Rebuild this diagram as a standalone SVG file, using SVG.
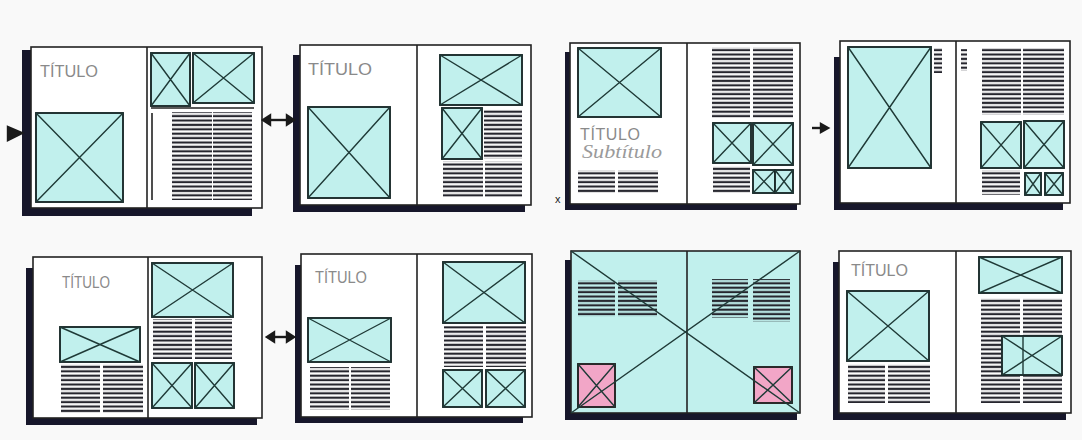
<svg xmlns="http://www.w3.org/2000/svg" width="1082" height="440" viewBox="0 0 1082 440">
<defs>
<pattern id="ln" x="0" y="0" width="10" height="4.4" patternUnits="userSpaceOnUse">
<rect x="0" y="0.6" width="10" height="2.2" fill="#26262e"/>
</pattern>
<style>
.pg{fill:#ffffff;stroke:#222222;stroke-width:1.6}
.sp{stroke:#222222;stroke-width:1.6;fill:none}
.sh{fill:#17172b}
.im{fill:#c1f0ed;stroke:#1b2b2a;stroke-width:1.9}
.pk{fill:#f2a6c7;stroke:#222222;stroke-width:1.9}
.x{stroke:#1f3a37;stroke-width:1.4;fill:none}
.tx{fill:url(#ln)}
.tt{font-family:"Liberation Sans",Arial,sans-serif;font-size:16px;fill:#8a8a8a}
.sub{font-family:"Liberation Serif",serif;font-style:italic;font-size:19px;fill:#9a9a9a}
.ar{fill:#1a1a1a;stroke:#1a1a1a;stroke-width:2.4}
</style>
</defs>
<rect width="1082" height="440" fill="#f9f9f9"/>

<g id="spread1">
<path class="sh" d="M22 50 H31 V207 H252 V216 H22 Z"/>
<rect class="pg" x="31" y="47" width="231" height="161"/>
<line class="sp" x1="147" y1="47" x2="147" y2="208"/>
<text class="tt" x="40" y="77" textLength="58" lengthAdjust="spacingAndGlyphs">TÍTULO</text>
<rect class="im" x="36" y="113" width="87" height="89"/><path class="x" d="M36 113 L123 202 M36 202 L123 113"/>
<rect class="im" x="151" y="53" width="39" height="53"/><path class="x" d="M151 53 L190 106 M151 106 L190 53"/>
<rect class="im" x="193" y="53" width="61" height="50"/><path class="x" d="M193 53 L254 103 M193 103 L254 53"/>
<line class="sp" x1="151" y1="108" x2="254" y2="108"/>
<line class="sp" x1="152" y1="113" x2="152" y2="200"/>
<rect class="tx" x="172" y="112" width="40" height="88"/>
<rect class="tx" x="213" y="112" width="39" height="88"/>
</g>

<g id="spread2">
<path class="sh" d="M293 55 H300 V205 H525 V212 H293 Z"/>
<rect class="pg" x="300" y="45" width="231" height="160"/>
<line class="sp" x1="417" y1="45" x2="417" y2="205"/>
<text class="tt" x="308" y="75" textLength="64" lengthAdjust="spacingAndGlyphs">TÍTULO</text>
<rect class="im" x="308" y="107" width="82" height="91"/><path class="x" d="M308 107 L390 198 M308 198 L390 107"/>
<rect class="im" x="440" y="55" width="82" height="50"/><path class="x" d="M440 55 L522 105 M440 105 L522 55"/>
<rect class="im" x="442" y="108" width="40" height="51"/><path class="x" d="M442 108 L482 159 M442 159 L482 108"/>
<rect class="tx" x="484" y="109" width="38" height="50"/>
<rect class="tx" x="443" y="161" width="40" height="36"/>
<rect class="tx" x="485" y="161" width="37" height="36"/>
</g>

<g id="spread3">
<path class="sh" d="M565 52 H570 V204 H797 V210 H565 Z"/>
<rect class="pg" x="570" y="43" width="230" height="161"/>
<line class="sp" x1="687" y1="43" x2="687" y2="204"/>
<rect class="im" x="578" y="48" width="83" height="69"/><path class="x" d="M578 48 L661 117 M578 117 L661 48"/>
<text class="tt" x="580" y="140" font-size="15" textLength="60" lengthAdjust="spacing">TÍTULO</text>
<text class="sub" x="582" y="158" textLength="80" lengthAdjust="spacingAndGlyphs">Subtítulo</text>
<rect class="tx" x="578" y="170" width="37" height="23"/>
<rect class="tx" x="618" y="170" width="40" height="23"/>
<rect class="tx" x="712" y="47" width="38" height="71"/>
<rect class="tx" x="753" y="47" width="40" height="71"/>
<rect class="im" x="713" y="123" width="38" height="40"/><path class="x" d="M713 123 L751 163 M713 163 L751 123"/>
<rect class="im" x="753" y="123" width="40" height="42"/><path class="x" d="M753 123 L793 165 M753 165 L793 123"/>
<rect class="tx" x="713" y="166" width="37" height="27"/>
<rect class="im" x="753" y="170" width="22" height="23"/><path class="x" d="M753 170 L775 193 M753 193 L775 170"/>
<rect class="im" x="775" y="170" width="18" height="23"/><path class="x" d="M775 170 L793 193 M775 193 L793 170"/>
</g>

<g id="spread4">
<path class="sh" d="M834 57 H840 V203 H1063 V210 H834 Z"/>
<rect class="pg" x="840" y="41" width="230" height="162"/>
<line class="sp" x1="956" y1="41" x2="956" y2="203"/>
<rect class="im" x="848" y="47" width="83" height="121"/><path class="x" d="M848 47 L931 168 M848 168 L931 47"/>
<rect class="tx" x="934" y="48" width="8" height="25"/>
<rect class="tx" x="961" y="49" width="6" height="22"/>
<rect class="tx" x="982" y="48" width="39" height="67"/>
<rect class="tx" x="1023" y="48" width="41" height="67"/>
<rect class="im" x="981" y="122" width="40" height="46"/><path class="x" d="M981 122 L1021 168 M981 168 L1021 122"/>
<rect class="im" x="1024" y="121" width="40" height="47"/><path class="x" d="M1024 121 L1064 168 M1024 168 L1064 121"/>
<rect class="tx" x="982" y="170" width="38" height="25"/>
<rect class="im" x="1025" y="173" width="16" height="22"/><path class="x" d="M1025 173 L1041 195 M1025 195 L1041 173"/>
<rect class="im" x="1045" y="173" width="18" height="22"/><path class="x" d="M1045 173 L1063 195 M1045 195 L1063 173"/>
</g>

<g id="spread5">
<path class="sh" d="M26 268 H33 V418 H257 V425 H26 Z"/>
<rect class="pg" x="33" y="257" width="229" height="161"/>
<line class="sp" x1="148" y1="257" x2="148" y2="418"/>
<text class="tt" x="62" y="288" textLength="48" lengthAdjust="spacingAndGlyphs">TÍTULO</text>
<rect class="im" x="60" y="327" width="80" height="35"/><path class="x" d="M60 327 L140 362 M60 362 L140 327"/>
<rect class="tx" x="61" y="364" width="39" height="49"/>
<rect class="tx" x="103" y="364" width="40" height="49"/>
<rect class="im" x="152" y="263" width="81" height="54"/><path class="x" d="M152 263 L233 317 M152 317 L233 263"/>
<rect class="tx" x="153" y="319" width="39" height="40"/>
<rect class="tx" x="195" y="319" width="37" height="40"/>
<rect class="im" x="152" y="363" width="40" height="45"/><path class="x" d="M152 363 L192 408 M152 408 L192 363"/>
<rect class="im" x="195" y="363" width="39" height="45"/><path class="x" d="M195 363 L234 408 M195 408 L234 363"/>
</g>

<g id="spread6">
<path class="sh" d="M295 265 H301 V417 H523 V423 H295 Z"/>
<rect class="pg" x="301" y="254" width="231" height="163"/>
<line class="sp" x1="417" y1="254" x2="417" y2="417"/>
<text class="tt" x="315" y="283" textLength="52" lengthAdjust="spacingAndGlyphs">TÍTULO</text>
<rect class="im" x="308" y="318" width="83" height="44"/><path class="x" d="M308 318 L391 362 M308 362 L391 318"/>
<rect class="tx" x="310" y="367" width="39" height="43"/>
<rect class="tx" x="351" y="367" width="39" height="43"/>
<rect class="im" x="443" y="262" width="82" height="61"/><path class="x" d="M443 262 L525 323 M443 323 L525 262"/>
<rect class="tx" x="444" y="326" width="39" height="41"/>
<rect class="tx" x="486" y="326" width="40" height="41"/>
<rect class="im" x="443" y="370" width="39" height="37"/><path class="x" d="M443 370 L482 407 M443 407 L482 370"/>
<rect class="im" x="486" y="370" width="39" height="37"/><path class="x" d="M486 370 L525 407 M486 407 L525 370"/>
</g>

<g id="spread7">
<path class="sh" d="M565 260 H571 V413 H797 V420 H565 Z"/>
<rect class="pg" x="571" y="251" width="229" height="162" style="fill:#c1f0ed"/>
<line class="sp" x1="687" y1="251" x2="687" y2="413"/>
<rect class="tx" x="578" y="280" width="37" height="37"/>
<rect class="tx" x="618" y="280" width="39" height="37"/>
<rect class="tx" x="712" y="279" width="36" height="39"/>
<rect class="tx" x="753" y="279" width="37" height="43"/>
<rect class="pk" x="578" y="364" width="37" height="43"/><path class="x" d="M578 364 L615 407 M578 407 L615 364"/>
<rect class="pk" x="754" y="367" width="38" height="36"/><path class="x" d="M754 367 L792 403 M754 403 L792 367"/>
<path class="x" d="M571 251 L800 413 M571 413 L800 251"/>
</g>

<g id="spread8">
<path class="sh" d="M833 262 H839 V413 H1066 V420 H833 Z"/>
<rect class="pg" x="839" y="251" width="232" height="162"/>
<line class="sp" x1="956" y1="251" x2="956" y2="413"/>
<text class="tt" x="851" y="276" textLength="57" lengthAdjust="spacingAndGlyphs">TÍTULO</text>
<rect class="im" x="847" y="291" width="82" height="70"/><path class="x" d="M847 291 L929 361 M847 361 L929 291"/>
<rect class="tx" x="848" y="364" width="37" height="39"/>
<rect class="tx" x="888" y="364" width="42" height="39"/>
<rect class="im" x="979" y="257" width="83" height="36"/><path class="x" d="M979 257 L1062 293 M979 293 L1062 257"/>
<rect class="tx" x="981" y="298" width="39" height="105"/>
<rect class="tx" x="1023" y="298" width="39" height="105"/>
<rect class="im" x="1002" y="336" width="60" height="39"/><path class="x" d="M1002 336 L1062 375 M1002 375 L1062 336"/>
<line class="x" x1="1023" y1="336" x2="1023" y2="375"/>
</g>

<g id="connectors">
<path class="ar" d="M8 127 L22 133 L8 140 Z"/>
<line class="ar" x1="268" y1="120" x2="289" y2="120"/>
<path class="ar" d="M263 120 L270 115.5 L270 124.5 Z M294 120 L287 115.5 L287 124.5 Z"/>
<line class="ar" x1="271" y1="337" x2="290" y2="337"/>
<path class="ar" d="M267 337 L274 332.5 L274 341.5 Z M294 337 L287 332.5 L287 341.5 Z"/>
<line class="ar" x1="812" y1="128" x2="822" y2="128"/>
<path class="ar" d="M828 128 L821 124 L821 132 Z"/>
<text x="555" y="203" font-family="Liberation Sans, sans-serif" font-size="11" fill="#222">x</text>
</g>
</svg>
